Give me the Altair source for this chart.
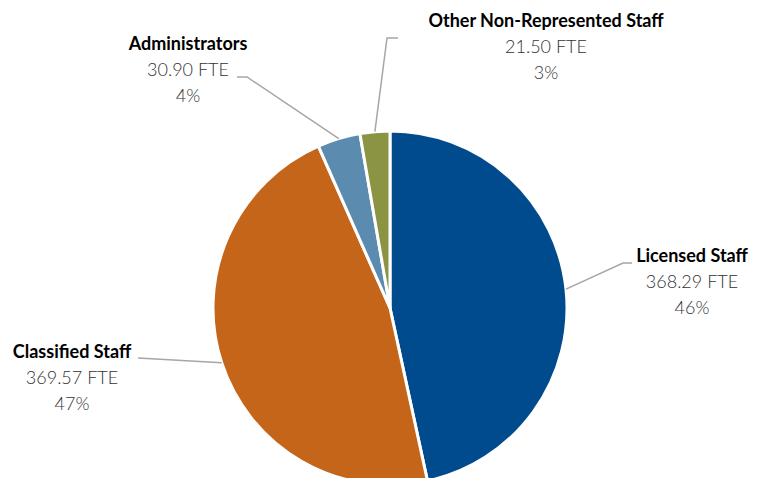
import altair as alt
import pandas as pd
import numpy as np

# ---- data ----
categories = ["Licensed Staff", "Classified Staff", "Administrators", "Other Non-Represented Staff"]
fte = [368.29, 369.57, 30.90, 21.50]
pct_labels = ["46%", "47%", "4%", "3%"]
colors = ["#004B8D", "#C4651A", "#5B8BAE", "#8A9442"]

# ---- layout (pixels in plot area) ----
W, H = 742, 470
CX, CY, R = 382, 300, 177
# label text centre x, first-line y; leader elbow and end points
label_x = [684, 64, 180, 538]
label_y = [249, 345, 37, 14]
elbow = [(615, 255), (130, 350), (239, 69), (379, 30)]
end = [(624, 255), (130, 350), (229, 69), (390, 30)]

total = sum(fte)
df = pd.DataFrame({"cat": categories, "fte": fte, "order": range(len(fte))})

pie = alt.Chart(df).mark_arc(radius=R, stroke="white", strokeWidth=3).encode(
    theta=alt.Theta("fte:Q", stack=True),
    order=alt.Order("order:Q"),
    color=alt.Color("cat:N", scale=alt.Scale(domain=categories, range=colors), legend=None),
    x=alt.value(CX),
    y=alt.value(CY),
)

# leader lines: start at slice mid-angle on the pie edge
cum = np.cumsum([0] + fte)
rows = []
for i, c in enumerate(categories):
    mid = (cum[i] + fte[i] / 2) / total * 2 * np.pi
    sx = CX + R * np.sin(mid)
    sy = CY - R * np.cos(mid)
    pts = [(sx, sy), elbow[i], end[i]]
    for k, (px, py) in enumerate(pts):
        rows.append({"cat": c, "k": k, "px": px, "py": py})
lines_df = pd.DataFrame(rows)

lines = alt.Chart(lines_df).mark_line(color="#A6A6A6", strokeWidth=1.5).encode(
    x=alt.X("px:Q", scale=None, axis=None),
    y=alt.Y("py:Q", scale=None, axis=None),
    detail="cat:N",
    order="k:Q",
)

lab_rows = []
for i, c in enumerate(categories):
    lab_rows.append({"t": c, "px": label_x[i], "py": label_y[i], "kind": "title"})
    lab_rows.append({"t": f"{fte[i]:.2f} FTE", "px": label_x[i], "py": label_y[i] + 26, "kind": "val"})
    lab_rows.append({"t": pct_labels[i], "px": label_x[i], "py": label_y[i] + 52, "kind": "val"})
lab_df = pd.DataFrame(lab_rows)

titles = alt.Chart(lab_df).transform_filter(alt.datum.kind == "title").mark_text(
    font="Lato", fontSize=18, fontWeight="bold", color="#000000", align="center", baseline="middle"
).encode(x=alt.X("px:Q", scale=None, axis=None), y=alt.Y("py:Q", scale=None, axis=None), text="t:N")

vals = alt.Chart(lab_df).transform_filter(alt.datum.kind == "val").mark_text(
    font="Lato", fontSize=18, fontWeight=300, color="#333333", align="center", baseline="middle"
).encode(x=alt.X("px:Q", scale=None, axis=None), y=alt.Y("py:Q", scale=None, axis=None), text="t:N")

chart = alt.layer(pie, lines, titles, vals).properties(
    width=W, height=H, autosize=alt.AutoSizeParams(type="none"), padding=0
).configure_view(stroke=None)

chart.save("out.html", embed_options={"renderer": "svg", "actions": False})
